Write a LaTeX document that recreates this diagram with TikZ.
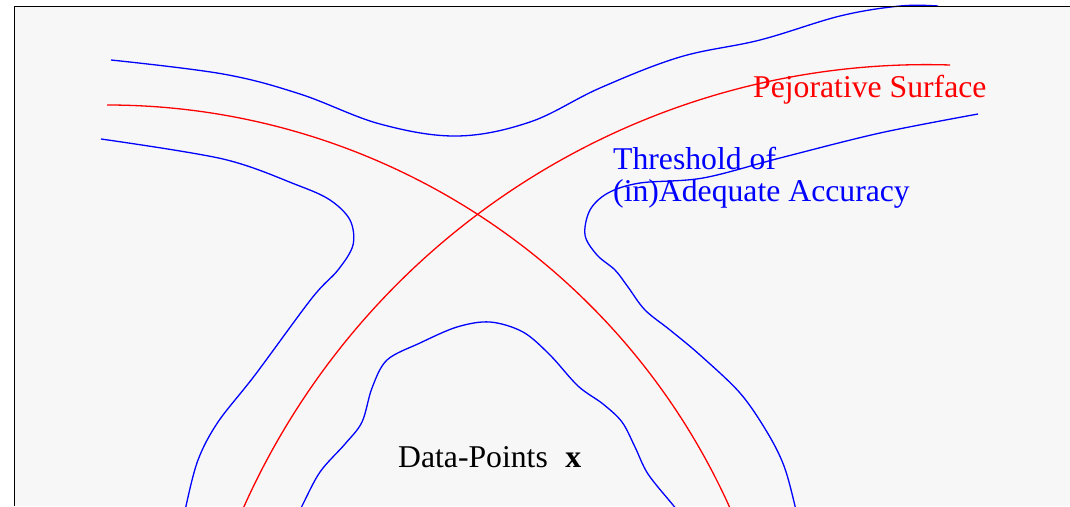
\documentclass[tikz,border=0pt]{standalone}
\usepackage{fontspec}
\setmainfont{Liberation Serif}
\definecolor{bg}{RGB}{247,247,247}
\begin{document}
\begin{tikzpicture}[x=1pt,y=-1pt,
  curve/.style={line width=1.3pt, line join=round},
  bluecurve/.style={curve, draw=blue},
  redcurve/.style={curve, draw=red},
  lbl/.style={inner sep=0pt, anchor=base west, font=\fontsize{31.7}{32}\selectfont}]
\useasboundingbox (0,0) rectangle (1070,506);
\fill[white] (0,0) rectangle (1070,506);
\fill[bg] (14,6) rectangle (1070,506);
\begin{scope}
\clip (0,0) rectangle (1070,506);
% top blue
\draw[bluecurve] plot[smooth, tension=0.6] coordinates {(111,60) (223,74) (300,94) (380,124) (457,136) (530,122) (600,88) (680,57) (760,40) (840,16) (900,6) (938,6)};
% red arcs
\coordinate (r1s) at (107,105);
\coordinate (r2s) at (950,65);
\draw[redcurve] (r1s) arc[start angle=-90, end angle=-22, radius=683];
\draw[redcurve] (r2s) arc[start angle=-88.2, end angle=-158, radius=748];
% left blue
\draw[bluecurve] plot[smooth, tension=0.55] coordinates {(101,139) (223,159) (297,185) (330,200) (350,220) (353,245) (338,270) (312,298) (255,375) (218,422) (198,460) (186,506) (185,516)};
% right blue
\draw[bluecurve] plot[smooth, tension=0.55] coordinates {(978,114) (880,133) (780,158) (703,178) (640,183) (608,193) (590,210) (585,235) (597,255) (615,270) (628,287) (645,310) (670,330) (700,355) (740,393) (767,432) (784,466) (795,506) (796,516)};
% inner blue
\draw[bluecurve] plot[smooth, tension=0.55] coordinates {(297,516) (302,506) (320,472) (345,444) (362,422) (372,388) (387,360) (420,343) (457,327) (490,322) (523,332) (550,355) (578,386) (603,404) (622,422) (635,447) (648,474) (673,505) (682,516)};
\end{scope}
\draw[line width=1pt] (14,506) -- (14,6) -- (1070,6);
\node[lbl, text=red] (pej) at (753,97) {Pejorative Surface};
\node[lbl, text=blue] (thr1) at (613,169) {Threshold of};
\node[lbl, text=blue] (thr2) at (613,201) {(in)Adequate Accuracy};
\node[lbl] (data) at (398,467) {Data-Points\hspace{0.55em}\textbf{x}};
\end{tikzpicture}
\end{document}
